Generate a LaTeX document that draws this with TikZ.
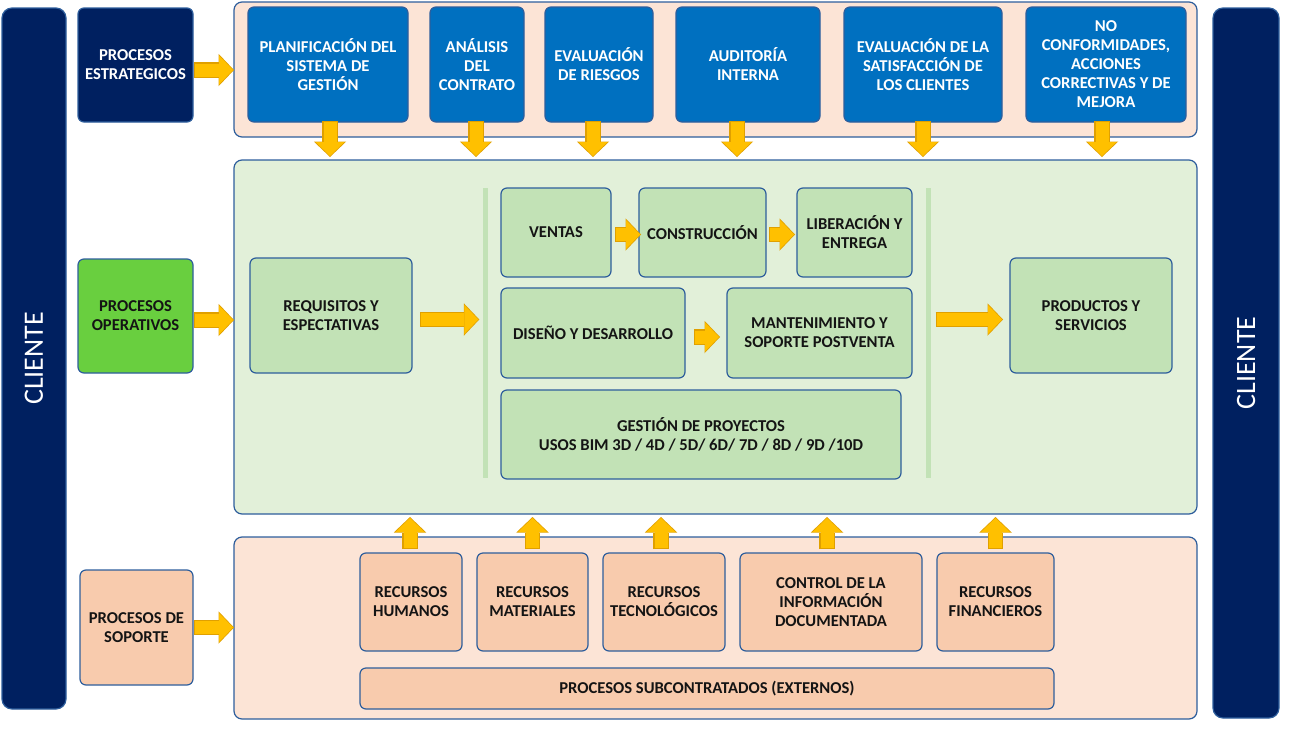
\documentclass[tikz,border=0pt]{standalone}
\usepackage{fontspec}
\setmainfont{Carlito}
\usetikzlibrary{
    positioning,      % For rows of boxes placed right=of each other
    arrows.meta,      % For the Triangle tips of the block arrows
    calc              % For small offsets of the arrow ends
}
\definecolor{NavyFill}{HTML}{002060}
\definecolor{BlueFill}{HTML}{0070C0}
\definecolor{BorderBlue}{HTML}{2E5E9C}
\definecolor{PeachLight}{HTML}{FCE4D6}
\definecolor{PeachFill}{HTML}{F8CBAD}
\definecolor{GreenLight}{HTML}{E2F0D9}
\definecolor{GreenFill}{HTML}{C2E2B6}
\definecolor{LimeFill}{HTML}{69CF3F}
\definecolor{ArrowFill}{HTML}{FFC000}
\definecolor{ArrowEdge}{HTML}{E0A000}

\begin{document}
\begin{tikzpicture}[
    % one unit = one pixel of the reference, y grows downwards
    x=1pt, y=-1pt,
    font=\bfseries\fontsize{16.6}{19}\selectfont,
]
    % --- Styles ---
    \tikzset{
        block/.style={
            shape=rectangle,
            rounded corners=6pt,
            draw=BorderBlue,
            line width=1.2pt,
            outer sep=0pt,
            align=center,
            inner sep=2pt,
            text=black!92,
        },
        frame/.style={block, rounded corners=8pt, minimum width=963pt},
        clientbar/.style={block, rounded corners=10pt, fill=NavyFill, text=white,
            font=\normalfont\fontsize{28}{30}\selectfont},
        navybox/.style={block, fill=NavyFill, text=white},
        bluebox/.style={block, fill=BlueFill, text=white, minimum height=115pt},
        greenbox/.style={block, fill=GreenFill},
        peachbox/.style={block, fill=PeachFill},
        separator/.style={fill=GreenFill, inner sep=0pt, minimum width=5pt, minimum height=290pt},
        % block arrow: a thick yellow line with a triangle tip and an orange rim
        fat/.style={
            draw=ArrowFill,
            line width=13pt,
            -{Triangle[width=29pt,length=14pt,line width=0pt]},
            shorten >=1pt,
            preaction={draw=ArrowEdge, line width=15.5pt,
                -{Triangle[width=32.5pt,length=15.5pt,line width=0pt]},
                shorten >=0pt, shorten <=-1pt}
        }
    }

    \useasboundingbox (0,0) rectangle (1307,734);

    % --- Client bars ---
    \node[clientbar, rotate=90, minimum width=701pt, minimum height=64pt] (cliL) at (34,358.5) {CLIENTE};
    \node[clientbar, rotate=90, minimum width=710pt, minimum height=66pt] (cliR) at (1246,363) {CLIENTE};

    % --- Containers ---
    \node[frame, fill=PeachLight, minimum height=135pt] (topc) at (715.5,69.5) {};
    \node[frame, fill=GreenLight, minimum height=354pt] (opc) at (715.5,337) {};
    \node[frame, fill=PeachLight, minimum height=182pt] (supc) at (715.5,628) {};

    % --- Strategic processes ---
    \node[navybox, minimum width=115pt, minimum height=114pt] (estr) at (135.5,65) {PROCESOS\\ESTRATEGICOS};
    \node[bluebox, minimum width=160pt] (plan) at (328,64.5) {PLANIFICACIÓN DEL\\SISTEMA DE\\GESTIÓN};
    \node[bluebox, minimum width=94pt, right=22pt of plan]   (anal) {ANÁLISIS\\DEL\\CONTRATO};
    \node[bluebox, minimum width=108pt, right=21pt of anal]  (eval) {EVALUACIÓN\\DE RIESGOS};
    \node[bluebox, minimum width=144pt, right=23pt of eval]  (audi) {AUDITORÍA\\INTERNA};
    \node[bluebox, minimum width=158pt, right=24pt of audi]  (satis) {EVALUACIÓN DE LA\\SATISFACCIÓN DE\\LOS CLIENTES};
    \node[bluebox, minimum width=160pt, right=24pt of satis] (noconf) {NO\\CONFORMIDADES,\\ACCIONES\\CORRECTIVAS Y DE\\MEJORA};

    % --- Operative processes ---
    \node[block, fill=LimeFill, minimum width=115pt, minimum height=114pt] (oper) at (135.5,316) {PROCESOS\\OPERATIVOS};
    \node[greenbox, minimum width=162pt, minimum height=115pt] (req) at (331,315.5) {REQUISITOS Y\\ESPECTATIVAS};
    \node[separator] (sepL) at (485,333) {};
    \node[separator] (sepR) at (928,333) {};
    \node[greenbox, minimum width=110pt, minimum height=89pt] (ventas) at (556,232.5) {VENTAS};
    \node[greenbox, minimum width=127pt, minimum height=89pt, right=28pt of ventas] (constr) {CONSTRUCCIÓN};
    \node[greenbox, minimum width=115pt, minimum height=89pt, right=31pt of constr] (liber) {LIBERACIÓN Y\\ENTREGA};
    \node[greenbox, minimum width=184pt, minimum height=90pt] (diseno) at (593,333) {DISEÑO Y DESARROLLO};
    \node[greenbox, minimum width=185pt, minimum height=90pt, right=42pt of diseno] (mant) {MANTENIMIENTO Y\\SOPORTE POSTVENTA};
    \node[greenbox, minimum width=400pt, minimum height=89pt] (gest) at (701,434.5) {GESTIÓN DE PROYECTOS\\USOS BIM 3D / 4D / 5D/ 6D/ 7D / 8D / 9D /10D};
    \node[greenbox, minimum width=162pt, minimum height=115pt] (prod) at (1091,315.5) {PRODUCTOS Y\\SERVICIOS};

    % --- Support processes ---
    \node[peachbox, minimum width=113pt, minimum height=115pt] (sop) at (136.5,627.5) {PROCESOS DE\\SOPORTE};
    \node[peachbox, minimum width=102pt, minimum height=98pt] (rh) at (411,602) {RECURSOS\\HUMANOS};
    \node[peachbox, minimum width=111pt, minimum height=98pt, right=15pt of rh]   (rm) {RECURSOS\\MATERIALES};
    \node[peachbox, minimum width=122pt, minimum height=98pt, right=15pt of rm]   (rt) {RECURSOS\\TECNOLÓGICOS};
    \node[peachbox, minimum width=182pt, minimum height=98pt, right=15pt of rt]   (ctrl) {CONTROL DE LA\\INFORMACIÓN\\DOCUMENTADA};
    \node[peachbox, minimum width=117pt, minimum height=98pt, right=15pt of ctrl] (rf) {RECURSOS\\FINANCIEROS};
    \node[peachbox, minimum width=694pt, minimum height=41pt] (sub) at (707,688.5) {PROCESOS SUBCONTRATADOS (EXTERNOS)};

    % --- Block arrows ---
    % labels into their containers
    \draw[fat] ($(estr.east)+(2,5)$) -- ($(estr.east -| topc.west)+(0,5)$);
    \draw[fat] ($(oper.east)+(2,4)$) -- ($(oper.east -| opc.west)+(0,4)$);
    \draw[fat] ($(sop.east)+(2,0)$)  -- ($(sop.east -| supc.west)+(0,0)$);

    % strategic boxes down to the operative block
    \foreach \b/\dx in {plan/2, anal/-1, eval/-6, audi/-11, satis/0, noconf/-4}
        \draw[fat] ($(\b.south)+(\dx,0)$) -- ($(\b.south |- opc.north)+(\dx,-3)$);

    % resources up to the operative block
    \foreach \b/\dx in {rh/-1, rm/0, rt/-3, ctrl/-4, rf/0}
        \draw[fat] ($(\b.north)+(\dx,-5)$) -- ($(\b.north |- opc.south)+(\dx,3)$);

    % flow inside the operative block
    \draw[fat] ($(req.east)+(9,4)$) -- ($(req.east -| sepL.west)+(-3,4)$);
    \draw[fat] ($(prod.west -| sepR.east)+(6,4)$) -- ($(prod.west)+(-7,4)$);
    \draw[fat] ($(ventas.east)+(5,2)$) -- ($(constr.west)+(2,2)$);
    \draw[fat] ($(constr.east)+(4,2)$) -- ($(liber.west)+(-2,2)$);
    \draw[fat] ($(diseno.east)+(10,4)$) -- ($(mant.west)+(-7,4)$);

\end{tikzpicture}
\end{document}
